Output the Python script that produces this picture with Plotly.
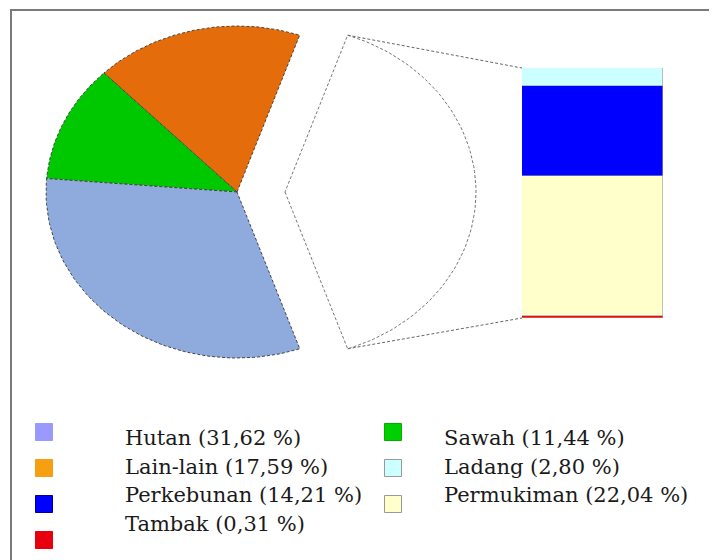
import math
import plotly.graph_objects as go

# ---------------- data ----------------
pie_labels = ["Lain-lain", "Sawah", "Hutan"]
pie_values = [17.59, 11.44, 31.62]
pie_colors = ["#E46C0A", "#00C800", "#8FAADC"]

bar_labels = ["Tambak", "Permukiman", "Perkebunan", "Ladang"]
bar_values = [0.31, 22.04, 14.21, 2.80]
bar_colors = ["#FF0000", "#FFFFCC", "#0000FF", "#CCFFFF"]

legend_col1 = ["Hutan", "Lain-lain", "Perkebunan", "Tambak"]
legend_col2 = ["Sawah", "Ladang", "Permukiman"]
legend_colors = {
    "Hutan": "#9999FF", "Lain-lain": "#F5A012", "Perkebunan": "#0000FF",
    "Tambak": "#E8000E", "Sawah": "#00D000", "Ladang": "#CCFFFF",
    "Permukiman": "#FFFFCC",
}
legend_borders = {
    "Hutan": "#9999FF", "Lain-lain": "#F5A012", "Perkebunan": "#000099",
    "Tambak": "#E8000E", "Sawah": "#00B000", "Ladang": "#999999",
    "Permukiman": "#999999",
}

# ---------------- layout geometry (page pixels) ----------------
W, H = 717, 560
OFF = 8  # default page body margin
cx, cy = 237, 192
rx, ry = 191, 166
explode = 48
bar_x0, bar_x1, bar_top, bar_bottom = 522, 663, 68, 318
FONT = "DejaVu Serif"

values_all = dict(zip(pie_labels, pie_values))
values_all.update(dict(zip(bar_labels, bar_values)))
other_total = sum(bar_values)
half = other_total / 100 * math.pi  # half angle of the "other" slice


def wedge(a0, a1, ox=0.0, n=80):
    xs, ys = [cx + ox], [cy]
    for i in range(n + 1):
        a = a0 + (a1 - a0) * i / n
        xs.append(cx + ox + rx * math.cos(a))
        ys.append(cy - ry * math.sin(a))
    xs.append(cx + ox)
    ys.append(cy)
    return xs, ys


fig = go.Figure()

# pie slices (counter-clockwise starting after the exploded slice)
a = half
for lab, val, col in zip(pie_labels, pie_values, pie_colors):
    a1 = a + val / 100 * 2 * math.pi
    xs, ys = wedge(a, a1)
    fig.add_trace(go.Scatter(x=xs, y=ys, mode="lines", fill="toself",
                             fillcolor=col,
                             line=dict(color="#444444", width=1, dash="3px,2px"),
                             hoverinfo="text", text=lab, showlegend=False))
    a = a1

# exploded "other" slice
xs, ys = wedge(-half, half, ox=explode)
fig.add_trace(go.Scatter(x=xs, y=ys, mode="lines", fill="toself",
                         fillcolor="#FFFFFF",
                         line=dict(color="#777777", width=1, dash="3px,2px"),
                         hoverinfo="skip", showlegend=False))

# connector lines
tx = cx + explode + rx * math.cos(half)
ty_top = cy - ry * math.sin(half)
ty_bot = cy + ry * math.sin(half)
fig.add_trace(go.Scatter(x=[tx, bar_x0], y=[ty_top, bar_top], mode="lines",
                         line=dict(color="#666666", width=1, dash="3px,2px"),
                         hoverinfo="skip", showlegend=False))
fig.add_trace(go.Scatter(x=[tx, bar_x0], y=[ty_bot, bar_bottom], mode="lines",
                         line=dict(color="#666666", width=1, dash="3px,2px"),
                         hoverinfo="skip", showlegend=False))

# stacked bar of the "other" slice
for lab, val, col in zip(bar_labels, bar_values, bar_colors):
    fig.add_trace(go.Bar(x=[0], y=[val], width=1, marker=dict(
        color=col, line=dict(color="#9A9A9A", width=0.6)),
        xaxis="x2", yaxis="y2", name=lab, showlegend=False))


def pct(v):
    return f"{v:.2f}".replace(".", ",")


# legend
mk_x = [44, 393]
tx_x = [123, 442]
for c, col_items in enumerate([legend_col1, legend_col2]):
    for i, lab in enumerate(col_items):
        my = 432 + 36 * i
        fig.add_trace(go.Scatter(
            x=[mk_x[c]], y=[my], mode="markers",
            marker=dict(symbol="square", size=17, color=legend_colors[lab],
                        line=dict(color=legend_borders[lab], width=1)),
            hoverinfo="skip", showlegend=False))
        fig.add_annotation(x=tx_x[c], y=438 + 28.6 * i, xref="x", yref="y",
                           text=f"{lab} ({pct(values_all[lab])} %)",
                           showarrow=False, xanchor="left", yanchor="middle",
                           font=dict(family=FONT, size=21, color="#1A1A1A"))

# frame
fig.add_shape(type="rect", x0=11, y0=10, x1=W + 30, y1=H + 30, xref="x", yref="y",
              line=dict(color="#7A7A7A", width=2), layer="above")

fig.update_layout(
    width=W, height=H,
    margin=dict(l=0, r=0, t=0, b=0),
    paper_bgcolor="white", plot_bgcolor="white",
    barmode="stack", bargap=0,
    xaxis=dict(range=[OFF, W + OFF], domain=[0, 1], visible=False, fixedrange=True),
    yaxis=dict(range=[H + OFF, OFF], domain=[0, 1], visible=False, fixedrange=True),
    xaxis2=dict(range=[-0.5, 0.5],
                domain=[(bar_x0 - OFF) / W, (bar_x1 - OFF) / W],
                anchor="y2", visible=False),
    yaxis2=dict(range=[0, other_total],
                domain=[(H - (bar_bottom - OFF)) / H, (H - (bar_top - OFF)) / H],
                anchor="x2", visible=False),
)

fig.write_html("out.html")
